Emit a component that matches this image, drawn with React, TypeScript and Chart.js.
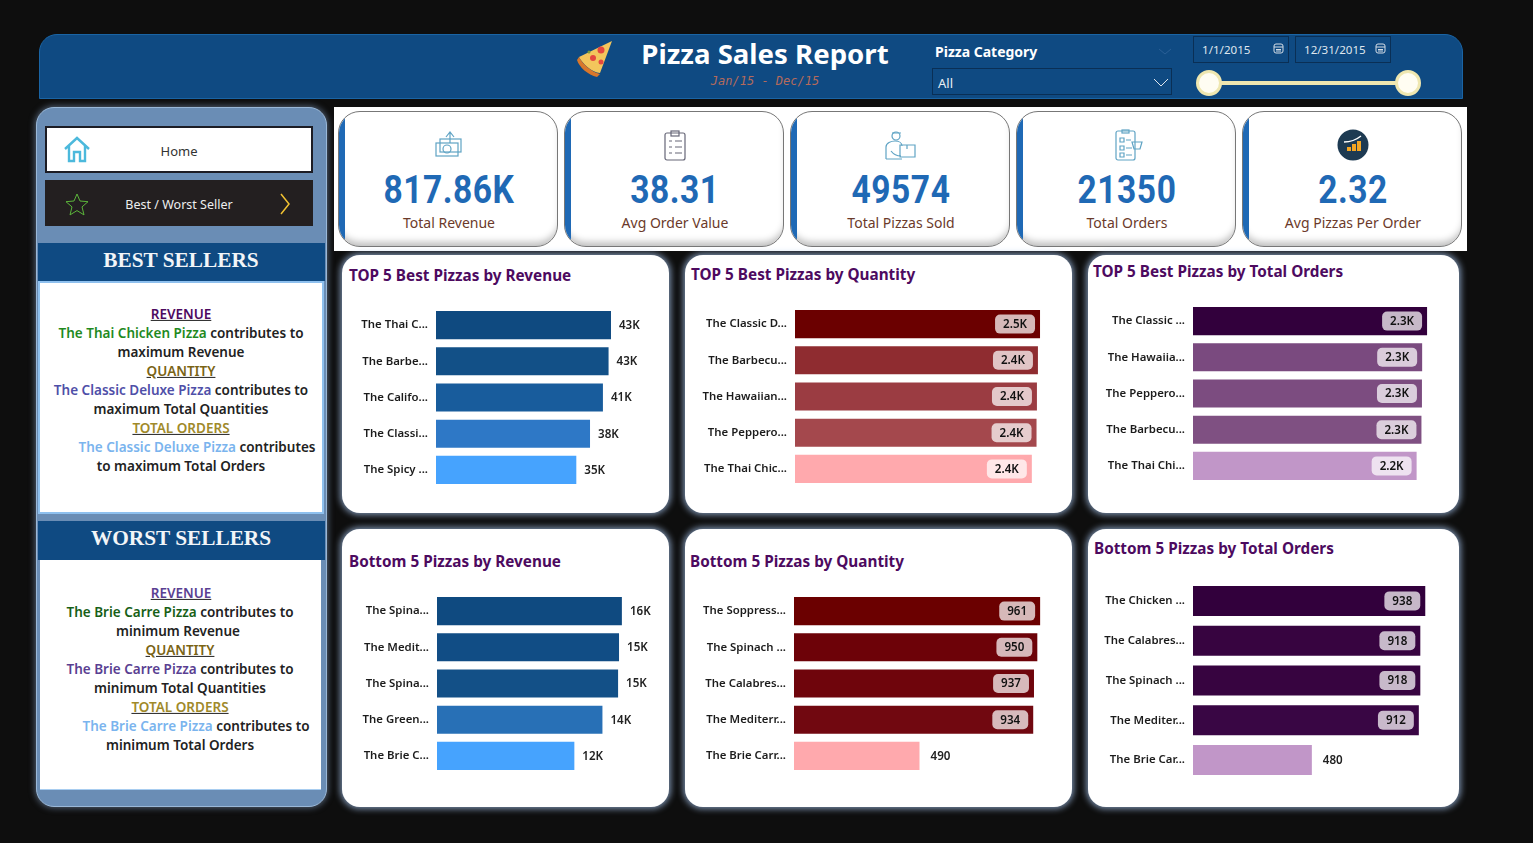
import { useEffect, useRef } from "react";
import { Chart, registerables } from "chart.js";

Chart.register(...registerables);

const FONT = "'Noto Sans', 'Open Sans', sans-serif";
Chart.defaults.font.family = FONT;

// chart data
const topRevenueLabels = ["The Thai C...", "The Barbe...", "The Califo...", "The Classi...", "The Spicy ..."];
const topRevenueValues = [43400, 42800, 41400, 38200, 34800];
const topRevenueColors = ["#0f4a80", "#125087", "#185c9c", "#2e78c6", "#46a3fe"];

const topQuantityLabels = ["The Classic D...", "The Barbecu...", "The Hawaiian...", "The Peppero...", "The Thai Chic..."];
const topQuantityValues = [2453, 2432, 2422, 2418, 2371];
const topQuantityColors = ["#6b0000", "#8f2c30", "#9b3c42", "#a4484d", "#ffa9ad"];

const topOrdersLabels = ["The Classic ...", "The Hawaiia...", "The Peppero...", "The Barbecu...", "The Thai Chi..."];
const topOrdersValues = [2329, 2280, 2278, 2273, 2225];
const topOrdersColors = ["#32003c", "#7a4a7f", "#7c4c80", "#7f5082", "#c196c8"];

const bottomRevenueLabels = ["The Spina...", "The Medit...", "The Spina...", "The Green...", "The Brie C..."];
const bottomRevenueValues = [15600, 15360, 15280, 13960, 11590];
const bottomRevenueColors = ["#0f4a80", "#114d85", "#135087", "#2870b6", "#46a3fe"];

const bottomQuantityLabels = ["The Soppress...", "The Spinach ...", "The Calabres...", "The Mediterr...", "The Brie Carr..."];
const bottomQuantityValues = [961, 950, 937, 934, 490];
const bottomQuantityColors = ["#6b0000", "#6d0208", "#6f050c", "#710810", "#ffa9ad"];

const bottomOrdersLabels = ["The Chicken ...", "The Calabres...", "The Spinach ...", "The Mediter...", "The Brie Car..."];
const bottomOrdersValues = [938, 918, 918, 912, 480];
const bottomOrdersColors = ["#32003c", "#370440", "#370440", "#390644", "#c196c8"];

const kpiValues = ["817.86K", "38.31", "49574", "21350", "2.32"];
const kpiLabels = ["Total Revenue", "Avg Order Value", "Total Pizzas Sold", "Total Orders", "Avg Pizzas Per Order"];

const fmtRound = (v: number) => Math.round(v / 1000) + "K";
const fmtOne = (v: number) => (v / 1000).toFixed(1) + "K";
const fmtPlain = (v: number) => String(v);

// draws the value next to or inside each bar
const valueLabels = {
  id: "valueLabels",
  afterDatasetsDraw(chart: any, _a: any, opts: any) {
    const { ctx } = chart;
    const meta = chart.getDatasetMeta(0);
    const values = chart.data.datasets[0].data;
    ctx.save();
    ctx.font = "600 11.6px " + FONT;
    ctx.textBaseline = "middle";
    meta.data.forEach((bar: any, i: number) => {
      const text = opts.format(values[i]);
      const w = ctx.measureText(text).width;
      if (opts.outside) {
        ctx.fillStyle = "#222";
        ctx.textAlign = "left";
        ctx.fillText(text, bar.x + 8, bar.y + 0.5);
      } else if (values[i] < opts.outsideBelow) {
        ctx.fillStyle = "#222";
        ctx.textAlign = "left";
        ctx.fillText(text, bar.x + 11, bar.y + 0.5);
      } else {
        const pw = w + 16;
        const px = bar.x - 5 - pw;
        ctx.fillStyle = "rgba(255,255,255,0.72)";
        ctx.beginPath();
        ctx.roundRect(px, bar.y - 9.5, pw, 19, 5);
        ctx.fill();
        ctx.fillStyle = "#111";
        ctx.textAlign = "center";
        ctx.fillText(text, px + pw / 2, bar.y + 0.5);
      }
    });
    ctx.restore();
  },
};

function BarPanel({ labels, values, colors, axisMax, left, top, width, height, gutter, barPct = 0.775, format, outside = false, outsideBelow = 0 }: any) {
  const ref = useRef<HTMLCanvasElement>(null);

  useEffect(() => {
    if (!ref.current) return;
    const chart = new Chart(ref.current, {
      type: "bar",
      data: {
        labels,
        datasets: [{ data: values, backgroundColor: colors, categoryPercentage: 1, barPercentage: barPct }],
      },
      plugins: [valueLabels],
      options: {
        indexAxis: "y",
        animation: false,
        responsive: false,
        layout: { padding: 0, autoPadding: false },
        plugins: {
          legend: { display: false },
          tooltip: { enabled: false },
          valueLabels: { format, outside, outsideBelow },
        } as any,
        scales: {
          x: { display: false, min: 0, max: axisMax },
          y: {
            afterFit: (scale: any) => {
              scale.width = gutter;
              scale.paddingTop = 0;
              scale.paddingBottom = 0;
            },
            grid: { display: false, drawTicks: false },
            border: { display: false },
            ticks: { color: "#1c1c1c", padding: 8, autoSkip: false, font: { size: 11.4, weight: 600 } },
          },
        },
      },
    });
    return () => chart.destroy();
  }, []);

  return <canvas ref={ref} width={width} height={height} style={{ position: "absolute", left, top, width, height }} />;
}

function Box({ x, y, w, h, style, children }: any) {
  return <div style={{ position: "absolute", left: x, top: y, width: w, height: h, boxSizing: "border-box", ...style }}>{children}</div>;
}

function Label({ x, y, center, size = 13, color = "#222", weight = 400, family = FONT, italic = false, underline = false, squeeze = 1, spacing = 0, children }: any) {
  return (
    <div
      style={{
        position: "absolute",
        left: x,
        top: y,
        transform: (center ? "translate(-50%,-50%)" : "translateY(-50%)") + ` scaleX(${squeeze})`,
        whiteSpace: "nowrap",
        fontSize: size,
        color,
        fontWeight: weight,
        fontFamily: family,
        fontStyle: italic ? "italic" : "normal",
        textDecoration: underline ? "underline" : "none",
        letterSpacing: spacing,
        lineHeight: 1.2,
      }}
    >
      {children}
    </div>
  );
}

function ChartCard({ x, y, w, h, title, tx, ty }: any) {
  return (
    <>
      <Box x={x} y={y} w={w} h={h} style={{ background: "#fff", borderRadius: 18, boxShadow: "0 0 6px 2px rgba(165,195,235,0.7)" }} />
      <Label x={tx} y={ty} size={15.3} weight={700} color="#4d0a5f">
        {title}
      </Label>
    </>
  );
}

function KpiIcon({ kind, cx }: any) {
  const stroke = "#5fa3c4";
  const common = { fill: "none", stroke, strokeWidth: 1.2 };
  const inner: any = {
    money: (
      <g {...common}>
        <rect x="3" y="14" width="22" height="13" />
        <rect x="7" y="10" width="21" height="13" />
        <circle cx="14" cy="20" r="4" />
        <path d="M17 14V4M13 8l4-5 4 5" />
      </g>
    ),
    list: (
      <g {...common} stroke="#667">
        <rect x="6" y="4" width="20" height="27" rx="2" />
        <rect x="12" y="2" width="8" height="5" />
        <path d="M10 12h3M16 12h7M10 18h3M16 18h7M10 24h3M16 24h7" />
      </g>
    ),
    delivery: (
      <g {...common}>
        <circle cx="11" cy="7" r="4" />
        <path d="M7 4h9M1 30V18c0-4 5-6 9-6s7 2 7 5M15 16h15v12H15zM22 16v4M1 30h16M6 22c3 4 6 5 10 5" />
      </g>
    ),
    orders: (
      <g {...common}>
        <rect x="5" y="2" width="19" height="29" rx="2" />
        <rect x="11" y="1" width="7" height="3" />
        <path d="M9 9h4v4H9zM9 17h4v4H9zM9 24h4v4H9zM15 11h5M15 19h6M15 26h6M21 13h10l-2 7h-6z" />
      </g>
    ),
    growth: (
      <g>
        <circle cx="16" cy="16" r="15.5" fill="#1d3a52" />
        <path d="M7 13c6 0 12-2 17-6" stroke="#fff" strokeWidth="1.4" fill="none" />
        <rect x="10" y="18" width="4" height="4" fill="#f5a623" />
        <rect x="15" y="15" width="4" height="7" fill="#f5a623" />
        <rect x="20" y="12" width="4" height="10" fill="#f5a623" />
      </g>
    ),
  };
  return (
    <svg width="32" height="32" viewBox="0 0 32 32" style={{ position: "absolute", left: cx - 16, top: 129 }}>
      {inner[kind]}
    </svg>
  );
}

function Calendar({ x }: any) {
  return (
    <svg width="11" height="11" viewBox="0 0 11 11" style={{ position: "absolute", left: x, top: 43 }}>
      <rect x="1" y="1" width="9" height="9" rx="2" fill="none" stroke="#d5dde6" />
      <path d="M1 4h9M3 6.5h5M3 8h5" stroke="#d5dde6" />
    </svg>
  );
}

function SellerText({ top, lines }: any) {
  return lines.map((line: any, i: number) => (
    <Label key={i} x={line.cx} y={top + i * 19} center size={13.5} weight={600} underline={line.underline} color="#222">
      {line.parts.map((p: any, j: number) => (
        <span key={j} style={{ color: p[1] }}>
          {p[0]}
        </span>
      ))}
    </Label>
  ));
}

const bestLines = [
  { cx: 181, underline: true, parts: [["REVENUE", "#4d0a5f"]] },
  { cx: 181, parts: [["The Thai Chicken Pizza", "#1f8a1f"], [" contributes to", "#222"]] },
  { cx: 181, parts: [["maximum Revenue", "#222"]] },
  { cx: 181, underline: true, parts: [["QUANTITY", "#7a6415"]] },
  { cx: 181, parts: [["The Classic Deluxe Pizza", "#4f4fa8"], [" contributes to", "#222"]] },
  { cx: 181, parts: [["maximum Total Quantities", "#222"]] },
  { cx: 181, underline: true, parts: [["TOTAL ORDERS", "#a08a2a"]] },
  { cx: 197, parts: [["The Classic Deluxe Pizza", "#7ab4ee"], [" contributes", "#222"]] },
  { cx: 181, parts: [["to maximum Total Orders", "#222"]] },
];

const worstLines = [
  { cx: 181, underline: true, parts: [["REVENUE", "#5a3f92"]] },
  { cx: 180, parts: [["The Brie Carre Pizza", "#176017"], [" contributes to", "#222"]] },
  { cx: 178, parts: [["minimum Revenue", "#222"]] },
  { cx: 180, underline: true, parts: [["QUANTITY", "#7a6415"]] },
  { cx: 180, parts: [["The Brie Carre Pizza", "#5a3f92"], [" contributes to", "#222"]] },
  { cx: 180, parts: [["minimum Total Quantities", "#222"]] },
  { cx: 180, underline: true, parts: [["TOTAL ORDERS", "#a08a2a"]] },
  { cx: 196, parts: [["The Brie Carre Pizza", "#7ab4ee"], [" contributes to", "#222"]] },
  { cx: 180, parts: [["minimum Total Orders", "#222"]] },
];

const kpiIcons = ["money", "list", "delivery", "orders", "growth"];

export default function App() {
  return (
    <div style={{ position: "fixed", inset: 0, background: "#0e0e0e", overflow: "hidden", fontFamily: FONT }}>
      {/* header */}
      <Box x={39} y={34} w={1424} h={65} style={{ background: "#0f4a82", border: "1px solid #1a64a4", borderRadius: "18px 18px 0 0" }} />
      <svg width="40" height="40" viewBox="0 0 40 40" style={{ position: "absolute", left: 576, top: 38 }}>
        <path d="M36 3 L24 35 C16 35 6 25 3 19 Z" fill="#f3c65c" />
        <path d="M3 19 C7 27 16 34 24 36 L21 39 C12 37 3 29 1 22 Z" fill="#d9772b" />
        <circle cx="25" cy="12" r="3.5" fill="#e4483f" />
        <circle cx="17" cy="20" r="3" fill="#e4483f" />
        <circle cx="25" cy="24" r="2.5" fill="#e4483f" />
        <circle cx="13" cy="14" r="1.5" fill="#7c9a3a" />
      </svg>
      <Label x={765} y={54} center size={27.6} weight={700} color="#fff">
        Pizza Sales Report
      </Label>
      <Label x={765} y={81} center size={12} italic family="'DejaVu Sans Mono', monospace" color="#b56a5c">
        Jan/15 - Dec/15
      </Label>
      <Label x={935} y={52} size={14} weight={700} color="#fff">
        Pizza Category
      </Label>
      <svg width="14" height="8" style={{ position: "absolute", left: 1158, top: 48 }}>
        <path d="M1 1l6 5 6-5" fill="none" stroke="#2a5f96" />
      </svg>
      <Box x={932} y={68} w={240} h={27} style={{ border: "1px solid #0a2f55" }} />
      <Label x={938} y={84} size={13} color="#e8edf2">
        All
      </Label>
      <svg width="16" height="9" style={{ position: "absolute", left: 1153, top: 78 }}>
        <path d="M1 1l7 7 7-7" fill="none" stroke="#dfe6ee" />
      </svg>
      <Box x={1193} y={36} w={96} h={27} style={{ border: "1px solid #0a2f55" }} />
      <Box x={1295} y={36} w={96} h={27} style={{ border: "1px solid #0a2f55" }} />
      <Label x={1202} y={50} size={11.6} color="#dfe6ee">
        1/1/2015
      </Label>
      <Label x={1304} y={50} size={11.6} color="#dfe6ee">
        12/31/2015
      </Label>
      <Calendar x={1273} />
      <Calendar x={1375} />
      <Box x={1209} y={81} w={199} h={4} style={{ background: "#efe7b0" }} />
      <Box x={1196} y={70} w={26} h={26} style={{ background: "#fffdf2", border: "3px solid #efe7b0", borderRadius: "50%" }} />
      <Box x={1395} y={70} w={26} h={26} style={{ background: "#fffdf2", border: "3px solid #efe7b0", borderRadius: "50%" }} />

      {/* side bar */}
      <Box x={36} y={107} w={291} h={700} style={{ background: "#6a8db5", border: "1px solid #9ab8d8", borderRadius: 18, boxShadow: "0 0 6px 1px rgba(150,180,220,0.5)" }} />
      <Box x={45} y={126} w={268} h={47} style={{ background: "#fff", border: "2px solid #1c1c24" }} />
      <svg width="28" height="28" viewBox="0 0 28 28" style={{ position: "absolute", left: 63, top: 136 }}>
        <path d="M2 13L14 2l12 11M6 10v15h5v-9h6v9h5V10" fill="none" stroke="#4cb9dc" strokeWidth="2.4" />
      </svg>
      <Label x={179} y={151.5} center size={13} color="#333">
        Home
      </Label>
      <Box x={45} y={180} w={268} h={46} style={{ background: "#231f20" }} />
      <svg width="24" height="24" viewBox="0 0 24 24" style={{ position: "absolute", left: 65, top: 192 }}>
        <path d="M12 2l3 7 8 .7-6 5.2 2 8-7-4.3-7 4.3 2-8-6-5.2 8-.7z" fill="none" stroke="#5bb53a" />
      </svg>
      <Label x={179} y={204} center size={12.5} color="#eee">
        Best / Worst Seller
      </Label>
      <svg width="12" height="22" style={{ position: "absolute", left: 279, top: 193 }}>
        <path d="M2 1l8 10-8 10" fill="none" stroke="#f1c232" strokeWidth="1.5" />
      </svg>

      <Box x={38} y={243} w={287} h={38} style={{ background: "#0f4a82" }} />
      <Label x={181} y={260.5} center size={21.3} weight={700} family="'Liberation Serif', serif" color="#f2f5f8">
        BEST SELLERS
      </Label>
      <Box x={38} y={281} w={286} h={233} style={{ background: "#fff", border: "2px solid #8ec0ee" }} />
      <SellerText top={313.5} lines={bestLines} />

      <Box x={38} y={521} w={287} h={39} style={{ background: "#0f4a82" }} />
      <Label x={181} y={538.5} center size={21.3} weight={700} family="'Liberation Serif', serif" color="#f2f5f8">
        WORST SELLERS
      </Label>
      <Box x={40} y={560} w={281} h={230} style={{ background: "#fff", borderBottom: "1px solid #a8cdf0" }} />
      <SellerText top={592.5} lines={worstLines} />

      {/* KPI strip */}
      <Box x={334} y={107} w={1133} h={144} style={{ background: "#fff" }} />
      {kpiValues.map((value, i) => {
        const cx = 449 + i * 226;
        return (
          <div key={value}>
            <Box
              x={338 + i * 226}
              y={111}
              w={220}
              h={136}
              style={{
                borderRadius: 22,
                border: "1px solid #777",
                boxShadow: "inset 0 -7px 7px -3px rgba(0,0,0,0.25)",
                background: "#fff",
                overflow: "hidden",
              }}
            >
              <div style={{ position: "absolute", left: 0, top: 0, bottom: 0, width: 6, background: "#1f69b5" }} />
            </Box>
            <KpiIcon kind={kpiIcons[i]} cx={cx} />
            <Label x={cx} y={190} center size={39} weight={700} family="Roboto, sans-serif" color="#1f69b5" squeeze={0.86} spacing={0.6}>
              {value}
            </Label>
            <Label x={cx} y={223} center size={14} color="#6b3a2a">
              {kpiLabels[i]}
            </Label>
          </div>
        );
      })}

      {/* chart cards */}
      <ChartCard x={342} y={255} w={327} h={258} title="TOP 5 Best Pizzas by Revenue" tx={349} ty={275} />
      <ChartCard x={685} y={255} w={387} h={258} title="TOP 5 Best Pizzas by Quantity" tx={691} ty={274} />
      <ChartCard x={1088} y={255} w={371} h={258} title="TOP 5 Best Pizzas by Total Orders" tx={1093} ty={271} />
      <ChartCard x={342} y={529} w={327} h={278} title="Bottom 5 Pizzas by Revenue" tx={349} ty={561} />
      <ChartCard x={685} y={529} w={387} h={278} title="Bottom 5 Pizzas by Quantity" tx={690} ty={561} />
      <ChartCard x={1088} y={529} w={371} h={278} title="Bottom 5 Pizzas by Total Orders" tx={1094} ty={548} />

      <BarPanel labels={topRevenueLabels} values={topRevenueValues} colors={topRevenueColors} axisMax={56300} left={348} top={307} width={315} height={181} gutter={88} format={fmtRound} outside />
      <BarPanel labels={topQuantityLabels} values={topQuantityValues} colors={topQuantityColors} axisMax={2713} left={691} top={306} width={375} height={181} gutter={104} format={fmtOne} />
      <BarPanel labels={topOrdersLabels} values={topOrdersValues} colors={topOrdersColors} axisMax={2587} left={1094} top={303} width={359} height={181} gutter={99} format={fmtOne} />
      <BarPanel labels={bottomRevenueLabels} values={bottomRevenueValues} colors={bottomRevenueColors} axisMax={19070} left={348} top={593} width={315} height={181} gutter={89} format={fmtRound} outside />
      <BarPanel labels={bottomQuantityLabels} values={bottomQuantityValues} colors={bottomQuantityColors} axisMax={1062} left={691} top={593} width={375} height={181} gutter={103} format={fmtPlain} outsideBelow={500} />
      <BarPanel labels={bottomOrdersLabels} values={bottomOrdersValues} colors={bottomOrdersColors} axisMax={1050} left={1094} top={581} width={359} height={199} gutter={99} barPct={0.755} format={fmtPlain} outsideBelow={500} />
    </div>
  );
}
